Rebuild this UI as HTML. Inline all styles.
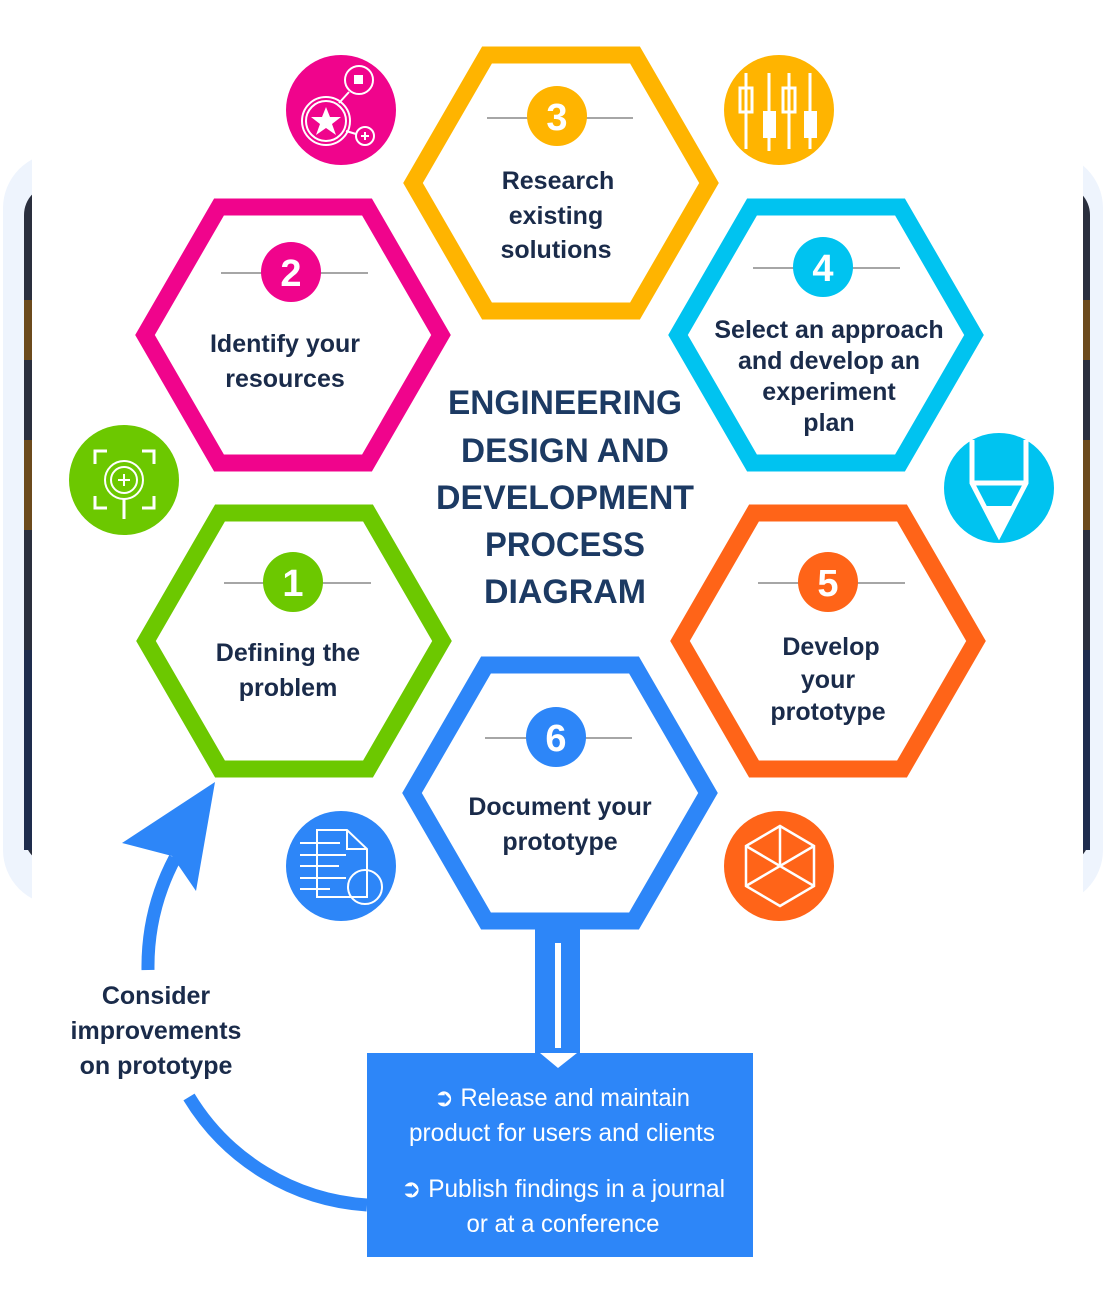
<!DOCTYPE html>
<html><head><meta charset="utf-8"><style>
html,body{margin:0;padding:0;background:#fff;}
svg{display:block}
text{font-family:"Liberation Sans",sans-serif;}
</style></head><body>
<svg width="1106" height="1295" viewBox="0 0 1106 1295" xmlns="http://www.w3.org/2000/svg">
<rect x="3" y="153" width="1100" height="752" rx="55" fill="#eef4fd"/>
<rect x="24" y="185" width="1066" height="680" rx="30" fill="#2a2f3e"/>
<rect x="24" y="300" width="1066" height="60" fill="#6b4a1c"/>
<rect x="24" y="440" width="1066" height="90" fill="#6b4a1c"/>
<rect x="24" y="650" width="1066" height="200" fill="#1e2c4e"/>
<rect x="32" y="0" width="1051" height="1295" fill="#fff"/>

<g fill="none" stroke-width="17" stroke-linejoin="miter">
<polygon points="145,335 219,207 367,207 441,335 367,463 219,463" stroke="#f0048c"/>
<polygon points="413,183 487,55 635,55 709,183 635,311 487,311" stroke="#ffb400"/>
<polygon points="678,335 752,207 900,207 974,335 900,463 752,463" stroke="#00c3f0"/>
<polygon points="146,641 220,513 368,513 442,641 368,769 220,769" stroke="#6cc800"/>
<polygon points="680,641 754,513 902,513 976,641 902,769 754,769" stroke="#ff6418"/>
<polygon points="412,793 486,665 634,665 708,793 634,921 486,921" stroke="#2d86f8"/>
</g>

<g stroke="#888" stroke-width="1.5">
<line x1="221" y1="273" x2="368" y2="273"/>
<line x1="487" y1="118" x2="633" y2="118"/>
<line x1="753" y1="268" x2="900" y2="268"/>
<line x1="224" y1="583" x2="371" y2="583"/>
<line x1="758" y1="583" x2="905" y2="583"/>
<line x1="485" y1="738" x2="632" y2="738"/>
</g>
<g font-weight="bold" font-size="38" fill="#fff" text-anchor="middle">
<circle cx="291" cy="272" r="30" fill="#f0048c"/><text x="291" y="286">2</text>
<circle cx="557" cy="116" r="30" fill="#ffb400"/><text x="557" y="130">3</text>
<circle cx="823" cy="267" r="30" fill="#00c3f0"/><text x="823" y="281">4</text>
<circle cx="293" cy="582" r="30" fill="#6cc800"/><text x="293" y="596">1</text>
<circle cx="828" cy="582" r="30" fill="#ff6418"/><text x="828" y="596">5</text>
<circle cx="556" cy="737" r="30" fill="#2d86f8"/><text x="556" y="751">6</text>
</g>

<g font-weight="bold" font-size="25" fill="#1a2b4a" text-anchor="middle">
<text x="285" y="352">Identify your</text><text x="285" y="387">resources</text>
<text x="558" y="189">Research</text><text x="556" y="224">existing</text><text x="556" y="258">solutions</text>
<text x="829" y="338">Select an approach</text><text x="829" y="369">and develop an</text><text x="829" y="400">experiment</text><text x="829" y="431">plan</text>
<text x="288" y="661">Defining the</text><text x="288" y="696">problem</text>
<text x="831" y="655">Develop</text><text x="828" y="688">your</text><text x="828" y="720">prototype</text>
<text x="560" y="815">Document your</text><text x="560" y="850">prototype</text>
<text x="156" y="1004">Consider</text><text x="156" y="1039">improvements</text><text x="156" y="1074">on prototype</text>
</g>
<g font-weight="bold" font-size="34.5" fill="#1c3a63" text-anchor="middle" lengthAdjust="spacingAndGlyphs">
<text x="565" y="414" textLength="234" lengthAdjust="spacingAndGlyphs">ENGINEERING</text>
<text x="565" y="462" textLength="208" lengthAdjust="spacingAndGlyphs">DESIGN AND</text>
<text x="565" y="509" textLength="258" lengthAdjust="spacingAndGlyphs">DEVELOPMENT</text>
<text x="565" y="556" textLength="160" lengthAdjust="spacingAndGlyphs">PROCESS</text>
<text x="565" y="603" textLength="162" lengthAdjust="spacingAndGlyphs">DIAGRAM</text>
</g>

<!-- icons -->
<circle cx="341" cy="110" r="55" fill="#f0048c"/>
<g fill="none" stroke="#fff" stroke-width="2">
<circle cx="326" cy="121" r="24"/><circle cx="326" cy="121" r="20"/>
<circle cx="359" cy="80" r="14"/><circle cx="365" cy="136" r="9"/>
<line x1="339" y1="103" x2="349" y2="92"/><line x1="346" y1="131" x2="356" y2="134"/>
<line x1="361" y1="136" x2="369" y2="136"/><line x1="365" y1="132" x2="365" y2="140"/>
</g>
<rect x="354" y="75" width="9" height="9" fill="#fff"/>
<polygon points="326,107 330,117 341,117 332,124 336,135 326,128 316,135 320,124 311,117 322,117" fill="#fff"/>

<circle cx="779" cy="110" r="55" fill="#ffb400"/>
<g stroke="#fff" stroke-width="3" fill="none">
<line x1="746" y1="73" x2="746" y2="149"/><line x1="769" y1="73" x2="769" y2="151"/>
<line x1="789" y1="73" x2="789" y2="149"/><line x1="810" y1="73" x2="810" y2="149"/>
<rect x="740" y="88" width="12" height="24"/><rect x="783" y="88" width="12" height="24"/>
</g>
<rect x="763" y="111" width="13" height="27" fill="#fff"/><rect x="804" y="111" width="13" height="27" fill="#fff"/>

<circle cx="124" cy="480" r="55" fill="#6cc800"/>
<g stroke="#fff" stroke-width="2" fill="none">
<path d="M95 464 V451 H107 M142 451 H154 V464 M95 496 V508 H107 M142 508 H154 V496" stroke-width="3"/>
<circle cx="124" cy="480" r="19"/><circle cx="124" cy="480" r="13"/>
<line x1="124" y1="499" x2="124" y2="519" stroke-width="3"/>
<line x1="118" y1="480" x2="130" y2="480"/><line x1="124" y1="474" x2="124" y2="486"/>
</g>

<circle cx="999" cy="488" r="55" fill="#00c3f0"/>
<path d="M972 440 V483 L999 535 L1026 483 V440" fill="none" stroke="#fff" stroke-width="5"/>
<line x1="972" y1="483" x2="1026" y2="483" stroke="#fff" stroke-width="5"/>
<polygon points="985,506 1013,506 999,533" fill="#fff"/>

<circle cx="341" cy="866" r="55" fill="#2d86f8"/>
<g stroke="#fff" stroke-width="2" fill="none">
<path d="M317 830 H347 L367 849 V897 H317 Z"/><path d="M347 830 V849 H367"/>
<line x1="300" y1="843" x2="340" y2="843"/><line x1="300" y1="855" x2="346" y2="855"/>
<line x1="300" y1="866" x2="339" y2="866"/><line x1="300" y1="878" x2="346" y2="878"/>
<line x1="300" y1="889" x2="330" y2="889"/>
<circle cx="365" cy="887" r="17"/>
</g>

<circle cx="779" cy="866" r="55" fill="#ff6418"/>
<g stroke="#fff" stroke-width="2.5" fill="none">
<polygon points="780,826 814,846 814,886 780,906 746,886 746,846"/>
<path d="M780 826 V866 M746 846 L814 886 M814 846 L746 886"/>
</g>

<!-- down connector -->
<rect x="535" y="925" width="45" height="135" fill="#2d86f8"/>
<rect x="555" y="943" width="6" height="105" fill="#fff"/>
<rect x="367" y="1053" width="386" height="204" fill="#2d86f8"/>
<polygon points="540,1053 577,1053 558,1068" fill="#fff"/>
<g fill="#fff" font-size="25" text-anchor="middle">
<text x="562" y="1106" textLength="256" lengthAdjust="spacingAndGlyphs">➲ Release and maintain</text>
<text x="562" y="1141" textLength="306" lengthAdjust="spacingAndGlyphs">product for users and clients</text>
<text x="563" y="1197" textLength="324" lengthAdjust="spacingAndGlyphs">➲ Publish findings in a journal</text>
<text x="563" y="1232" textLength="193" lengthAdjust="spacingAndGlyphs">or at a conference</text>
</g>

<!-- curved arrow -->
<g fill="none" stroke="#2d86f8" stroke-width="13">
<path d="M367 1205 A225 225 0 0 1 189 1097"/>
<path d="M148 970 A232 232 0 0 1 175 858"/>
</g>
<polygon points="215,782 196,891 172,856 122,843" fill="#2d86f8"/>
</svg>
</body></html>
